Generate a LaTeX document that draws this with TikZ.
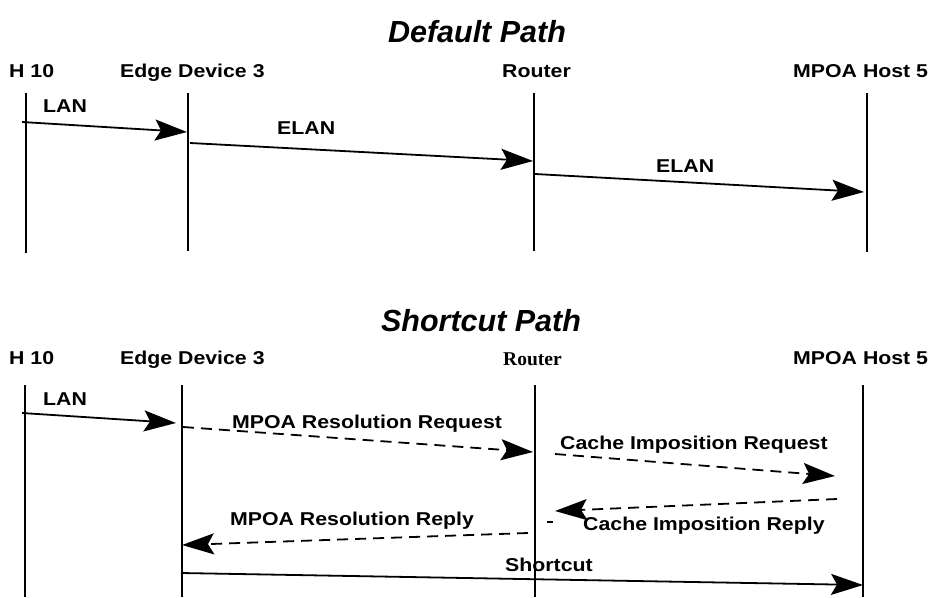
\documentclass[tikz,border=0pt]{standalone}
\usepackage{fontspec}
\usetikzlibrary{arrows.meta}
\newfontfamily\labfont{Liberation Sans}[FakeStretch=1.145]
\newfontfamily\titfont{Liberation Sans}
\newfontfamily\serfont{Liberation Serif}
\tikzset{
  lbl/.style={inner sep=0pt, anchor=base west, font=\labfont\bfseries\fontsize{18.6}{20}\selectfont},
  serlbl/.style={inner sep=0pt, anchor=base west, font=\serfont\bfseries\fontsize{19.5}{21}\selectfont},
  ttl/.style={inner sep=0pt, anchor=base, font=\titfont\bfseries\itshape\fontsize{30.5}{32}\selectfont},
  life/.style={line width=2pt},
  msg/.style={line width=1.8pt, -{Stealth[length=32pt,width=21pt,inset=6pt]}},
  dmsg/.style={msg, dash pattern=on 11pt off 7pt},
}
\begin{document}
\begin{tikzpicture}[x=1pt,y=-1pt]
\useasboundingbox (0,0) rectangle (928,597);
% ---------- Default path ----------
\node[ttl] (t1) at (477,42) {Default Path};
\node[lbl] (a1) at (9,77) {H 10};
\node[lbl] (a2) at (120,77) {Edge Device 3};
\node[lbl] (a3) at (502,77) {Router};
\node[lbl] (a4) at (793,77) {MPOA Host 5};
\coordinate (l1t) at (26,93);  \coordinate (l1b) at (26,253);
\coordinate (l2t) at (188,93); \coordinate (l2b) at (188,251);
\coordinate (l3t) at (534,93); \coordinate (l3b) at (534,251);
\coordinate (l4t) at (867,93); \coordinate (l4b) at (867,252);
\draw[life] (l1t) -- (l1b);
\draw[life] (l2t) -- (l2b);
\draw[life] (l3t) -- (l3b);
\draw[life] (l4t) -- (l4b);
\coordinate (m1s) at (22,122);  \coordinate (m1e) at (187,132);
\coordinate (m2s) at (190,143); \coordinate (m2e) at (533,161);
\coordinate (m3s) at (535,174); \coordinate (m3e) at (864,192);
\draw[msg] (m1s) -- (m1e);
\draw[msg] (m2s) -- (m2e);
\draw[msg] (m3s) -- (m3e);
\node[lbl] (x1) at (43,112.5) {LAN};
\node[lbl] (x2) at (277,134) {ELAN};
\node[lbl] (x3) at (656,172.5) {ELAN};
% ---------- Shortcut path ----------
\node[ttl] (t2) at (481,331) {Shortcut Path};
\node[lbl] (b1) at (9,364) {H 10};
\node[lbl] (b2) at (120,364) {Edge Device 3};
\node[serlbl] (b3) at (503,365) {Router};
\node[lbl] (b4) at (793,364) {MPOA Host 5};
\coordinate (k1t) at (25,385);  \coordinate (k1b) at (25,597);
\coordinate (k2t) at (182,385); \coordinate (k2b) at (182,597);
\coordinate (k3t) at (535,385); \coordinate (k3b) at (535,597);
\coordinate (k4t) at (863,385); \coordinate (k4b) at (863,597);
\draw[life] (k1t) -- (k1b);
\draw[life] (k2t) -- (k2b);
\draw[life] (k3t) -- (k3b);
\draw[life] (k4t) -- (k4b);
\coordinate (n1s) at (22,413);  \coordinate (n1e) at (176,423);
\coordinate (n2s) at (183,427); \coordinate (n2e) at (533,452);
\coordinate (n3s) at (555,454); \coordinate (n3e) at (835,476);
\coordinate (n4s) at (837,499); \coordinate (n4e) at (555,511);
\coordinate (n5s) at (528,533); \coordinate (n5e) at (182,545);
\coordinate (n6s) at (181,573); \coordinate (n6e) at (863,585);
\coordinate (d1) at (547,522);  \coordinate (d2) at (553,522);
\draw[msg] (n1s) -- (n1e);
\draw[dmsg] (n2s) -- (n2e);
\draw[dmsg] (n3s) -- (n3e);
\draw[dmsg] (n4s) -- (n4e);
\draw[dmsg] (n5s) -- (n5e);
\draw[msg] (n6s) -- (n6e);
\draw[line width=1.8pt] (d1) -- (d2);
\node[lbl] (y1) at (43,405) {LAN};
\node[lbl] (y2) at (232,428) {MPOA Resolution Request};
\node[lbl] (y3) at (560,449) {Cache Imposition Request};
\node[lbl] (y4) at (583,530) {Cache Imposition Reply};
\node[lbl] (y5) at (230,525) {MPOA Resolution Reply};
\node[lbl] (y6) at (505,571) {Shortcut};
\end{tikzpicture}
\end{document}
